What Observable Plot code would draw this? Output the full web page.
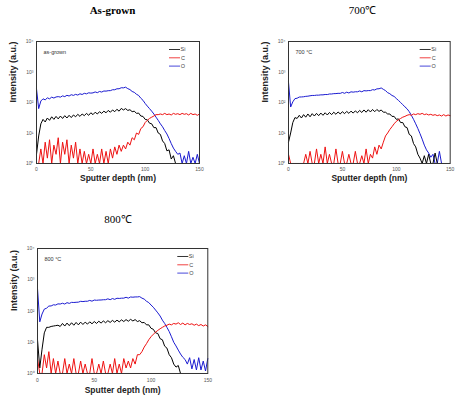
<!DOCTYPE html>
<html><head><meta charset="utf-8">
<script src="https://cdn.jsdelivr.net/npm/d3@7"></script>
<script src="https://cdn.jsdelivr.net/npm/@observablehq/plot@0.6"></script>
<style>
body{margin:0;background:#fff;}
#root{position:relative;width:469px;height:411px;overflow:hidden;font-family:"Liberation Sans",Arial,sans-serif;}
.title{position:absolute;font-family:"Liberation Serif","Times New Roman",serif;font-size:11px;color:#000;transform:translate(-50%,-50%);white-space:nowrap;line-height:1;}
.panel{position:absolute;}
</style></head><body><div id="root"></div>
<script>
// Sputter depth (nm), shared sampling grid
const depth = [0,2,4,6,8,10,12,14,16,18,20,22,24,26,28,30,32,34,36,38,40,42,44,46,48,50,52,54,56,58,60,62,64,66,68,70,72,74,76,78,80,82,84,86,88,90,92,94,96,98,100,102,104,106,108,110,112,114,116,118,120,122,124,126,128,130,132,134,136,138,140,142,144,146,148,150];

// As-grown
const asSi = [2,8,20,28,23,31,26,34,28,35, 29,36,30,37,31,38,32,39,34,41, 35,42,37,44,38,46,40,48,42,50, 44,52,46,55,48,57,50,60,52,64, 57,63,55,58,50,52,44,45,36,35, 28,27,21,20,15,15,10,9,5.5,4.5, 2.6,2.8,1.4,1.8,1,null,null,null,null,null, null,null,null,null,null,null];
const asC  = [1,1,3,1,5,1.5,6,1,4,2, 7,1,5,2,6,1,4,1.5,5,1, 3,1,2.5,1,2,1,3,1,2,1, 3,1,2.5,1,3,1.5,3.5,2,4,2.5, 4,3,5,4,7,6,10,9,14,16, 22,26,30,33,36,40,40,42,40,44, 40,42,39,44,41,43,40,44,41,43, 39,44,40,42,38,42];
const asO  = [280,63,112,132,122,142,132,150,140,152, 156,150,165,156,172,163,180,171,185,175, 193,183,200,192,208,203,207,222,210,230, 220,238,236,244,245,262,262,282,282,305, 302,318,285,265,230,215,186,170,138,118, 93,76,63,52,42,33,26,20,16,12, 9.3,6.6,4.5,3.2,2.5,2,2.2,1,1.8,1, 2.5,1,1.6,1,2,1];

// 700 °C
const t7Si = [5,10,22,32,30,38,31,40,33,42, 34,43,36,44,37,45,38,46,39,47, 40,48,41,49,42,50,43,51,44,52, 45,53,46,55,47,57,48,58,49,59, 50,59,51,57,48,48,42,42,35,35, 28,29,22,22,16,15,9,8,4.5,3.5, 2,1.5,1,1.8,1,2,1,1,2.2,1, null,null,null,null,null,null];
const t7C  = [2,1,1,1,1,1,1,1,2,1, 2.5,1,1,3,1,2,1,3.5,1,2, 1,1,3,1,1,2.5,1,1,2,1, 1,2.5,1,1,1.8,1,3,1,2,1.5, 3.5,2,4,3,5,8,10,13,16,20, 24,27,30,33,35,38,40,38,42,40, 43,41,44,40,42,39,41,38,40,37, 39,36,40,36,39,37];
const t7O  = [470,71,105,134,138,151,152,154,159,161, 166,170,170,174,174,178,178,183,182,190, 190,195,196,200,199,213,200,218,205,224, 218,225,224,239,224,245,240,246,245,263, 257,280,282,300,270,245,210,194,170,158, 135,117,100,85,72,62,50,38,28,20, 14,9.5,6.3,4,2.8,2.2,1.6,2,1,1, 2.5,1,null,null,null,null];

// 800 °C
const t8Si = [12,1.5,6,20,30,30,32,33,34,35, 32,40,33,41,34,42,35,43,36,44, 37,44,38,45,39,46,40,47,41,48, 42,49,43,50,44,51,45,52,46,53, 47,54,48,53,46,49,42,43,36,36, 28,26,20,19,13,12,7.5,6.5,4,3.2, 2,1.6,1.8,1,null,null,null,null,null,null, null,null,null,null,null,null];
const t8C  = [3,1,1,4,1.5,5,1,3,1,2.5, 1,1,3,1,2,1,3,1,1,2.5, 1,2,1,1,3,1,1,2,1,2.5, 1,1,2,1,3,1,2,1,3,1.5, 2.5,1.5,3,2,4,4,5,7,9,12, 15,18,21,24,27,30,33,35,38,36, 40,38,42,37,41,36,40,37,39,35, 38,34,37,33,36,32];
const t8O  = [525,45,80,115,123,144,145,158,155,169, 167,177,167,185,175,189,187,190,192,204, 200,205,205,218,206,224,220,224,225,229, 230,245,230,250,236,256,252,257,258,275, 258,281,276,282,282,288,258,240,205,186, 155,132,107,87,69,51,40,30,22,15, 10,7.6,5.6,4.2,3.3,2.8,2,3.2,1.4,2.8, 1.3,3.2,1.3,2.5,1.2,3];

const xTicks = [0, 50, 100, 150];
const yTicks = [1, 10, 100, 1000, 10000];
const supers = ["\u2070", "\u00B9", "\u00B2", "\u00B3", "\u2074"];
const seriesNames = ["Si", "C", "O"];
const seriesColors = ["#000000", "#ee1111", "#1a1ad0"];

const root = document.getElementById("root");

function addTitle(text, cx, cy, bold) {
  const d = document.createElement("div");
  d.className = "title";
  d.textContent = text;
  d.style.left = cx + "px";
  d.style.top = cy + "px";
  d.style.fontWeight = bold ? "bold" : "normal";
  root.appendChild(d);
}

function panel(opt) {
  const mL = 36, mT = 6, mR = 8, mB = 32;
  const W = opt.fw + mL + mR, H = opt.fh + mT + mB;
  const ys = [opt.si, opt.c, opt.o];
  const legend = () => {
    const g = d3.create("svg:g");
    const right = W - mR, top = mT;
    seriesNames.forEach((name, i) => {
      const y = top + 8.5 + i * 8.3;
      g.append("line").attr("x1", right - 30).attr("x2", right - 19).attr("y1", y).attr("y2", y)
        .attr("stroke", seriesColors[i]).attr("stroke-width", 0.8);
      g.append("text").attr("x", right - 16).attr("y", y).attr("dy", "0.35em")
        .attr("font-size", 5.5).attr("fill", "#444").text(name);
    });
    return g.node();
  };
  const order = [2, 0, 1];
  const chart = Plot.plot({
    width: W, height: H,
    marginLeft: mL, marginTop: mT, marginRight: mR, marginBottom: mB,
    style: {background: "transparent", fontFamily: "Liberation Sans, Arial, sans-serif", fontSize: "5px", overflow: "visible"},
    x: {domain: [0, 150]},
    y: {type: "log", domain: [1, 10000]},
    marks: [
      ...order.map(k => Plot.line(depth, {x: depth, y: ys[k], stroke: seriesColors[k], strokeWidth: 1})),
      Plot.axisX({ticks: xTicks, tickSize: 0, tickPadding: opt.xtp, fontSize: 5, fill: "#555", label: null}),
      Plot.axisY({ticks: yTicks, tickSize: 0, tickPadding: 3, fontSize: 5, fill: "#555", label: null,
        tickFormat: d => "10" + supers[Math.round(Math.log10(d))]}),
      Plot.text(["Intensity (a.u.)"], {frameAnchor: "left", dx: -23, rotate: -90, fontSize: 9, fontWeight: "bold", fill: "#222"}),
      Plot.text(["Sputter depth (nm)"], {frameAnchor: "bottom", dy: opt.xld, fontSize: 8.5, fontWeight: "bold", fill: "#222"}),
      Plot.text([opt.inset], {frameAnchor: "top-left", dx: 7, dy: 8.5, textAnchor: "start", fontSize: 5.5, fill: "#333"}),
      legend,
      Plot.frame({stroke: "#333", strokeWidth: 1})
    ]
  });
  const div = document.createElement("div");
  div.className = "panel";
  div.style.left = (opt.fx - mL) + "px";
  div.style.top = (opt.fy - mT) + "px";
  div.appendChild(chart);
  root.appendChild(div);
}

addTitle("As-grown", 112.5, 9.5, true);
addTitle("700\u2103", 362.5, 10, false);
addTitle("800\u2103", 118, 219, false);

panel({si: asSi, c: asC, o: asO, inset: "as-grown", fx: 36, fy: 40.7, fw: 163, fh: 122, xtp: 4, xld: 17.5});
panel({si: t7Si, c: t7C, o: t7O, inset: "700 \u00B0C", fx: 288.3, fy: 40.7, fw: 161.7, fh: 122, xtp: 4, xld: 17.5});
panel({si: t8Si, c: t8C, o: t8O, inset: "800 \u00B0C", fx: 36.7, fy: 248.3, fw: 170.3, fh: 125, xtp: 5, xld: 19.5});
</script></body></html>
